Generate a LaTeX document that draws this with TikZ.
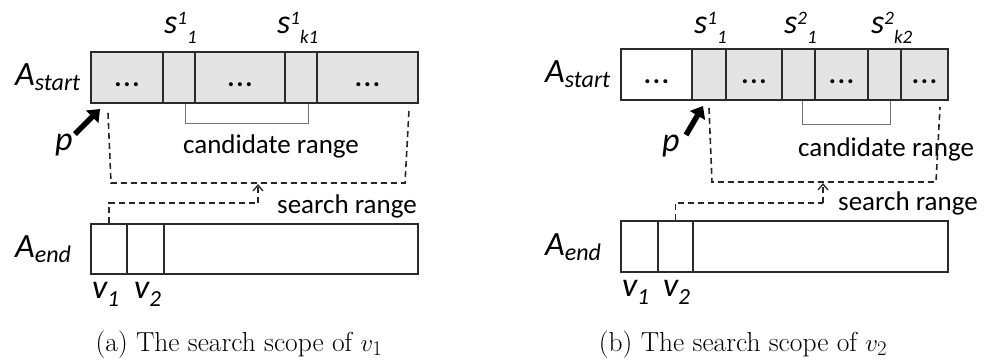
\documentclass[tikz,border=0pt]{standalone}
\usepackage{fontspec}
\newfontfamily\calib{Carlito}
\usetikzlibrary{arrows.meta}
\newcommand\wordfont{\calib\fontsize{27}{32}\selectfont}
\newcommand\varfont{\calib\itshape\fontsize{34}{40}\selectfont}
\newcommand\smallvar{\calib\itshape\fontsize{19}{22}\selectfont}
\newcommand\subvar{\calib\fontsize{23}{26}\selectfont}
\newcommand\supx[1]{\raisebox{9pt}{\smallvar #1}}
\newcommand\subx[1]{\raisebox{-10pt}{\smallvar #1}}
\newcommand\celldots{\vphantom{A}\textbf{.\kern1.8pt.\kern1.8pt.}}
\definecolor{cellgray}{HTML}{E4E4E4}
\definecolor{edge}{HTML}{2A2A2A}
\begin{document}
\begin{tikzpicture}[x=1pt,y=-1pt,
  cellg/.style={draw=edge, line width=1.5pt, fill=cellgray, inner sep=0pt, font=\wordfont},
  cellw/.style={cellg, fill=white},
  lab/.style={inner sep=0pt, anchor=base west},
  brack/.style={draw=black!55, line width=0.9pt},
  srch/.style={draw=black!85, line width=1.6pt, dash pattern=on 6pt off 4pt},
  parrow/.style={line width=5.5pt, -{Triangle[length=11pt,width=17pt]}},
  captext/.style={inner sep=0pt, anchor=base, font=\fontsize{27.5}{32}\selectfont}]
\useasboundingbox (0,0) rectangle (991,359);

% ---------------- left panel ----------------
\node[cellg, minimum width=72, minimum height=51] (la1) at (127,77.5) {\celldots};
\node[cellg, minimum width=32, minimum height=51] (la2) at (179,77.5) {};
\node[cellg, minimum width=90, minimum height=51] (la3) at (240,77.5) {\celldots};
\node[cellg, minimum width=32, minimum height=51] (la4) at (301,77.5) {};
\node[cellg, minimum width=101, minimum height=51] (la5) at (367.5,77.5) {\celldots};

\node[lab] (lAs) at (15,85) {\varfont A\raisebox{-5pt}{\calib\itshape\fontsize{24}{28}\selectfont start}};
\node[lab] (ls1) at (164,33) {\varfont s\supx{1}\subx{1}};
\node[lab] (ls2) at (277,33) {\varfont s\supx{1}\subx{k1}};

\coordinate (lbl) at (185,103.5);
\coordinate (lbr) at (308,103.5);
\draw[brack] (lbl) -- ++(0,20) -| (lbr);
\node[lab, anchor=base] (lcand) at (271,153) {\wordfont candidate range};

\node[lab] (lp) at (55,150) {\varfont p};
\coordinate (lptail) at (75,134);
\coordinate (lptip) at (100,109);
\draw[parrow] (lptail) -- (lptip);

\coordinate (lsr1) at (108,113);
\coordinate (lsr2) at (111,183);
\coordinate (lsr3) at (405,183);
\coordinate (lsr4) at (409,110);
\draw[srch] (lsr1) -- (lsr2) -- (lsr3) -- (lsr4);

\node[cellw, minimum width=36, minimum height=50] (le1) at (109,249) {};
\node[cellw, minimum width=37, minimum height=50] (le2) at (145.5,249) {};
\node[cellw, minimum width=254, minimum height=50] (le3) at (291,249) {};

\coordinate (lmid) at (258,203);
\coordinate (ltop) at (258,184);
\draw[srch] (le1.north) |- (lmid);
\draw[srch, -{Straight Barb[length=6pt,width=10pt,line width=1.3pt]}] (lmid) -- (ltop);
\node[lab] (lsearch) at (277,213) {\wordfont search range};

\node[lab] (lAe) at (15,257) {\varfont A\raisebox{-5pt}{\calib\itshape\fontsize{24}{28}\selectfont end}};
\node[lab] (lv1) at (92,298) {\varfont v\raisebox{-8pt}{\subvar 1}};
\node[lab] (lv2) at (134,298) {\varfont v\raisebox{-8pt}{\subvar 2}};

\node[captext] (lcap) at (239,351) {(a)\ The search scope of $v_1$};

% ---------------- right panel ----------------
\node[cellw, minimum width=71, minimum height=51] (ra1) at (656.5,74.5) {\celldots};
\node[cellg, minimum width=34, minimum height=51] (ra2) at (709,74.5) {};
\node[cellg, minimum width=56, minimum height=51] (ra3) at (754,74.5) {\celldots};
\node[cellg, minimum width=33, minimum height=51] (ra4) at (798.5,74.5) {};
\node[cellg, minimum width=53, minimum height=51] (ra5) at (841.5,74.5) {\celldots};
\node[cellg, minimum width=33, minimum height=51] (ra6) at (884.5,74.5) {};
\node[cellg, minimum width=47, minimum height=51] (ra7) at (924.5,74.5) {\celldots};

\node[lab] (rAs) at (545,82) {\varfont A\raisebox{-5pt}{\calib\itshape\fontsize{24}{28}\selectfont start}};
\node[lab] (rs1) at (694,33) {\varfont s\supx{1}\subx{1}};
\node[lab] (rs2) at (784,33) {\varfont s\supx{2}\subx{1}};
\node[lab] (rs3) at (871,33) {\varfont s\supx{2}\subx{k2}};

\coordinate (rbl) at (802,100.5);
\coordinate (rbr) at (890,100.5);
\draw[brack] (rbl) -- ++(0,24) -| (rbr);
\node[lab] (rcand) at (798,156) {\wordfont candidate range};

\node[lab] (rp) at (662,151) {\varfont p};
\coordinate (rptail) at (686,135);
\coordinate (rptip) at (703,106);
\draw[parrow] (rptail) -- (rptip);

\coordinate (rsr1) at (709,108);
\coordinate (rsr2) at (712,182);
\coordinate (rsr3) at (936,182);
\coordinate (rsr4) at (940,107);
\draw[srch] (rsr1) -- (rsr2) -- (rsr3) -- (rsr4);

\node[cellw, minimum width=37, minimum height=51] (re1) at (639.5,246.5) {};
\node[cellw, minimum width=35, minimum height=51] (re2) at (675.5,246.5) {};
\node[cellw, minimum width=255, minimum height=51] (re3) at (820.5,246.5) {};

\coordinate (rmid) at (823,203);
\coordinate (rtop) at (823,183);
\draw[srch] (re2.north) |- (rmid);
\draw[srch, -{Straight Barb[length=6pt,width=10pt,line width=1.3pt]}] (rmid) -- (rtop);
\node[lab] (rsearch) at (838,210) {\wordfont search range};

\node[lab] (rAe) at (545,255) {\varfont A\raisebox{-5pt}{\calib\itshape\fontsize{24}{28}\selectfont end}};
\node[lab] (rv1) at (622,296) {\varfont v\raisebox{-8pt}{\subvar 1}};
\node[lab] (rv2) at (663,296) {\varfont v\raisebox{-8pt}{\subvar 2}};

\node[captext] (rcap) at (743,351) {(b)\ The search scope of $v_2$};
\end{tikzpicture}
\end{document}
